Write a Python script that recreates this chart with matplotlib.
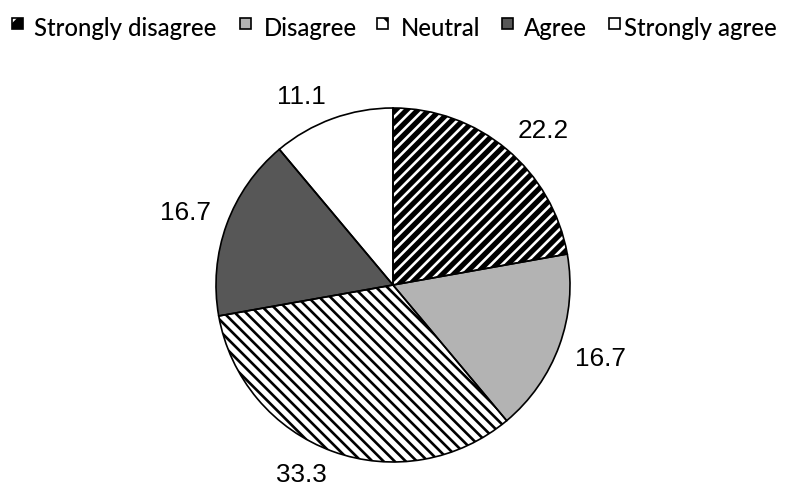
import numpy as np
import matplotlib
matplotlib.use("Agg")
import matplotlib.pyplot as plt
from matplotlib.patches import Rectangle

categories = ["Strongly disagree", "Disagree", "Neutral", "Agree", "Strongly agree"]
values = [22.2, 16.7, 33.3, 16.7, 11.1]
value_labels = ["22.2", "16.7", "33.3", "16.7", "11.1"]

faces = ["black", "#b3b3b3", "white", "#575757", "white"]
hatches = ["///", None, "\\\\\\", None, None]
hatch_cols = ["white", "black", "black", "black", "black"]

plt.rcParams['hatch.linewidth'] = 1.9

W, H = 788, 489
fig = plt.figure(figsize=(W / 100, H / 100), dpi=100)

cx, cy, r = 393, 286, 177
ax = fig.add_axes([(cx - r) / W, (H - cy - r) / H, 2 * r / W, 2 * r / H])

wedges, _ = ax.pie(values, startangle=90, counterclock=False, radius=1,
                   wedgeprops=dict(linewidth=0))
for w, fc, hc, ht in zip(wedges, faces, hatch_cols, hatches):
    w.set_facecolor(fc)
    w.set_edgecolor(hc)
    w.set_linewidth(0)
    if ht:
        w.set_hatch(ht)

# outlines
ax.pie(values, startangle=90, counterclock=False, radius=1,
       wedgeprops=dict(fill=False, edgecolor="black", linewidth=1.2))

ax.set_xlim(-1, 1)
ax.set_ylim(-1, 1)
ax.set_aspect('equal', adjustable='box')
ax.axis('off')

# value labels (outside end)
for w, lab in zip(wedges, value_labels):
    th = np.deg2rad((w.theta1 + w.theta2) / 2)
    d = 1.10
    ax.annotate(lab, xy=(d * np.cos(th), d * np.sin(th)),
                xytext=(18 * np.sign(np.cos(th)), 4.5 * np.sign(np.sin(th))),
                textcoords='offset points',
                ha='center', va='center', fontsize=18.8,
                family='Liberation Sans', color='black', annotation_clip=False)

# legend (manual)
marker_x = [12, 240, 377, 502, 609]
text_x = [34, 264, 401, 524, 624]
msize = 11
my_top = 19
baseline = 35.5

fam = 'Lato'
wt = 'medium'
t = fig.text(0, 0, categories[0], fontsize=10, family=fam, weight=wt)
fig.canvas.draw()
wpx = t.get_window_extent().width
t.remove()
fs = 10 * 183 / wpx

for i, (cat, fc, hc, ht) in enumerate(zip(categories, faces, hatch_cols, hatches)):
    x0 = marker_x[i] / W
    y0 = (H - my_top - msize) / H
    rect = Rectangle((x0, y0), msize / W, msize / H, transform=fig.transFigure,
                     facecolor=fc, edgecolor=hc, linewidth=0,
                     hatch=(ht[:1] if ht else None))
    fig.add_artist(rect)
    outline = Rectangle((x0, y0), msize / W, msize / H, transform=fig.transFigure,
                        fill=False, edgecolor='black', linewidth=1.2)
    fig.add_artist(outline)
    fig.text(text_x[i] / W, (H - baseline) / H, cat, fontsize=fs, family=fam,
             weight=wt, va='baseline', ha='left', color='black')

fig.savefig("out.png", dpi=100)
